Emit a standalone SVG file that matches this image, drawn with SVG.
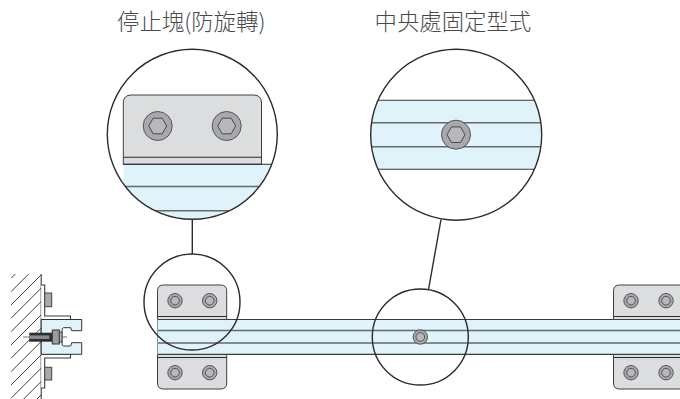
<svg xmlns="http://www.w3.org/2000/svg" xmlns:xlink="http://www.w3.org/1999/xlink" width="680" height="399" viewBox="0 0 680 399">
<style>
.lbl{font-family:"Noto Sans CJK TC","Noto Sans CJK SC",sans-serif;font-size:22.4px;font-weight:300;fill:#4a4a4a;text-anchor:start}
.plate{fill:#dcddde;stroke:#404040;stroke-width:1}
.edge{fill:none;stroke:#2a2a2a;stroke-width:1.1}
.beam{fill:#e0f2fa;stroke:none}
.ln{stroke:#3a3a3a;stroke-width:1.1;fill:none}
.mid{stroke:#666a6e;stroke-width:1.4;fill:none}
.ring{fill:none;stroke:#2b2b2b;stroke-width:1.4}
.hatch{stroke:#444;stroke-width:1;fill:none}
.bo{fill:#a7a9ac;stroke:#4a4a4a;stroke-width:.9}
.bi{fill:#b7b8ba;stroke:#4a4a4a;stroke-width:.9}
.hx{fill:#b7b8ba;stroke:#4a4a4a;stroke-width:1}
</style>
<defs>
<g id="boltS"><circle class="bo" r="7.2"/><circle class="bi" r="4.3"/></g>
<g id="boltL"><circle class="bo" r="14.5"/><polygon class="hx" points="-9,0 -4.5,-7.8 4.5,-7.8 9,0 4.5,7.8 -4.5,7.8"/></g>
<clipPath id="c1"><circle cx="192.3" cy="134.3" r="85"/></clipPath>
<clipPath id="c2"><circle cx="456.2" cy="134.7" r="85.5"/></clipPath>
<clipPath id="wall"><rect x="11" y="274" width="30" height="125"/></clipPath>
</defs>
<g id="label-stop"><text class="lbl" x="117" y="30">停止塊(防旋轉)</text></g>
<g id="label-center"><text class="lbl" x="374.5" y="30">中央處固定型式</text></g>
<g id="connectors">
<line class="ring" x1="192.3" y1="219" x2="192.3" y2="254"/>
<line class="ring" x1="441" y1="219.5" x2="428.5" y2="289.5"/>
</g>
<g id="wall-hatch">
<g clip-path="url(#wall)">
<path class="hatch" d="M11 278.3L60 229.3M11 291.7L60 242.7M11 305L60 256M11 318.3L60 269.3M11 331.7L60 282.7M11 345L60 296M11 358.3L60 309.3M11 371.7L60 322.7M11 385L60 336M11 398.3L60 349.3M11 411.7L60 362.7M11 425L60 376M11 438.3L60 389.3"/>
</g>
<line class="ln" x1="41.2" y1="274" x2="41.2" y2="399"/>
</g>
<g id="end-mount">
<path class="ln" style="fill:#fff" d="M41.2 285H44.7V316H70.5V319.5H41.2"/>
<path class="ln" style="fill:#fff" d="M41.2 354.3H70.5V358H44.7V388H41.2"/>
<rect x="44.7" y="293" width="7" height="13.7" fill="#a7a9ac" stroke="#444"/>
<rect x="44.7" y="367.3" width="7" height="12.7" fill="#a7a9ac" stroke="#444"/>
<path class="beam" style="stroke:#333;stroke-width:1" d="M41.2 319.5H81.7V330.7H71.7L70.7 327.7H63.3Q62 327.7 62 331.7V343Q62 346 63.3 346H70.7L71.7 342.7H81.7V354.3H41.2Z"/>
<line x1="23" y1="337" x2="67" y2="337" stroke="#777" stroke-width="1"/>
<rect x="29.3" y="332.7" width="23" height="9" fill="#2e2e2e"/>
<rect x="29.3" y="335.4" width="20" height="3.6" fill="#8a8c8e"/>
<rect x="52.3" y="330" width="7" height="14" fill="#9a9c9f" stroke="#333"/>
<rect x="59.3" y="332" width="2.7" height="10" fill="#b7b8ba" stroke="#333" stroke-width=".8"/>
</g>
<g id="beam">
<rect class="beam" x="157.5" y="319.5" width="523" height="35"/>
<path class="ln" d="M157.5 319.5H680M157.5 354.4H680"/>
<path class="mid" d="M157.5 330.5H680M157.5 343H680"/>
</g>
<g id="stop-left">
<path class="plate" d="M157.5 319.5V291Q157.5 285 163.5 285H220.7Q226.7 285 226.7 291V319.5Z"/>
<path class="plate" d="M157.5 354.5V383Q157.5 389 163.5 389H220.7Q226.7 389 226.7 383V354.5Z"/>
<path class="edge" d="M157.5 316.5H226.7M157.5 357.5H226.7"/>
<use xlink:href="#boltS" x="175" y="300.7"/><use xlink:href="#boltS" x="209.7" y="300.7"/>
<use xlink:href="#boltS" x="175" y="372.7"/><use xlink:href="#boltS" x="209.7" y="372.7"/>
<line x1="157.5" y1="319.5" x2="157.5" y2="354.5" stroke="#8a9aa2" stroke-width="1"/>
</g>
<g id="stop-right">
<path class="plate" d="M681 319.5H613.5V291Q613.5 285 619.5 285H681Z"/>
<path class="plate" d="M681 354.5H613.5V383Q613.5 389 619.5 389H681Z"/>
<path class="edge" d="M613.5 316.5H680M613.5 357.5H680"/>
<use xlink:href="#boltS" x="631" y="300.7"/><use xlink:href="#boltS" x="666" y="300.7"/>
<use xlink:href="#boltS" x="631" y="372.7"/><use xlink:href="#boltS" x="666" y="372.7"/>
</g>
<g id="center-bolt"><use xlink:href="#boltS" x="420.3" y="337"/></g>
<g id="detail-ring-left"><circle class="ring" cx="192" cy="302" r="48"/></g>
<g id="detail-ring-center"><circle class="ring" cx="420.3" cy="337" r="48"/></g>
<g id="zoom-stop">
<circle cx="192.3" cy="134.3" r="85" fill="#fff"/>
<g clip-path="url(#c1)">
<rect class="beam" x="123.5" y="164.3" width="160" height="60"/>
<path class="plate" d="M123.3 164.3V103Q123.3 95 131.3 95H253.5Q261.5 95 261.5 103V164.3Z"/>
<path class="edge" d="M123.3 157.3H261.5M123.3 164.3H285"/>
<path class="mid" d="M123.3 186.5H285M123.3 210.7H285"/>
<use xlink:href="#boltL" x="157.7" y="126"/><use xlink:href="#boltL" x="226.7" y="126"/>
</g>
<circle class="ring" cx="192.3" cy="134.3" r="85"/>
</g>
<g id="zoom-center">
<circle cx="456.2" cy="134.7" r="85.5" fill="#fff"/>
<g clip-path="url(#c2)">
<rect class="beam" x="365" y="100.3" width="180" height="69"/>
<path class="ln" d="M365 100.3H545M365 169.3H545"/>
<path class="mid" d="M365 122.7H545M365 146.7H545"/>
<use xlink:href="#boltL" x="456" y="134.7"/>
</g>
<circle class="ring" cx="456.2" cy="134.7" r="85.5"/>
</g>
</svg>
